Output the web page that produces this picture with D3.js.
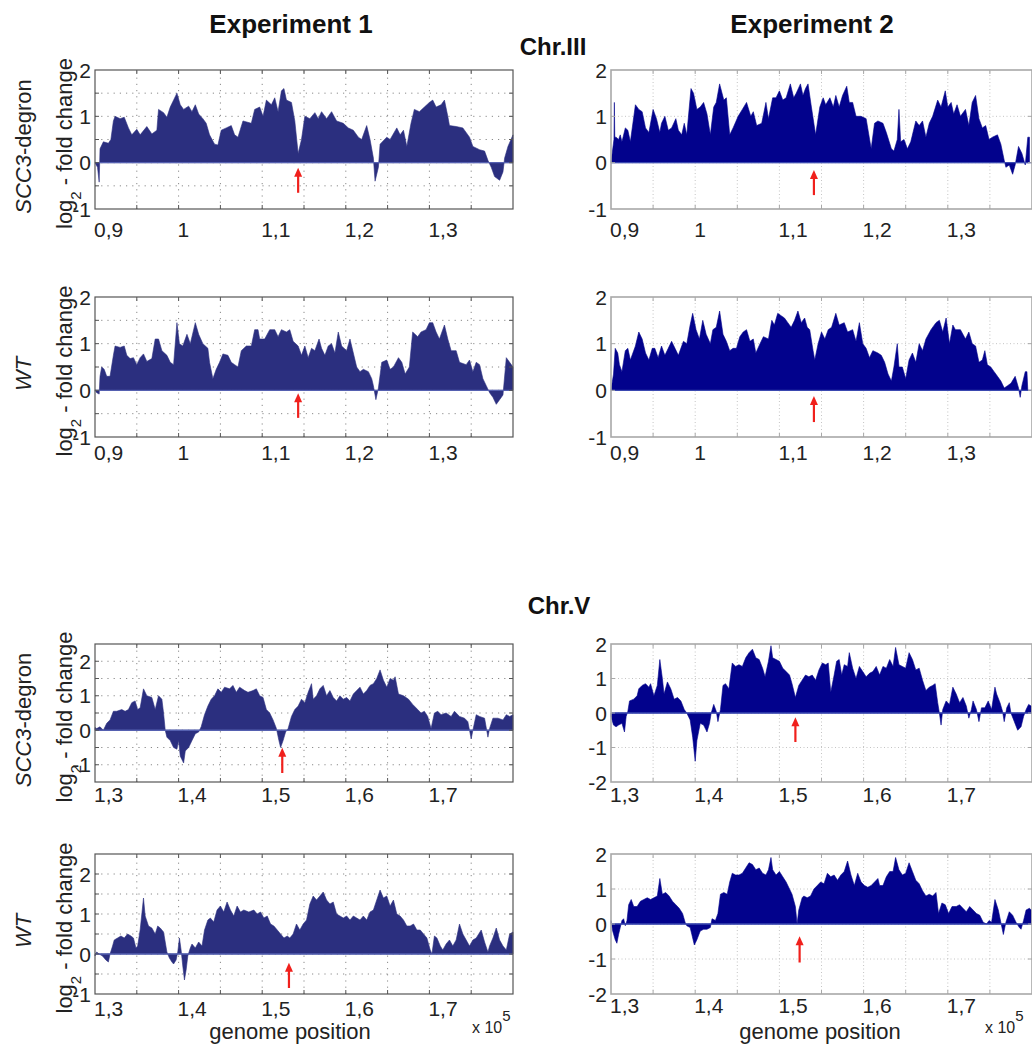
<!DOCTYPE html>
<html>
<head>
<meta charset="utf-8">
<script src="https://cdn.jsdelivr.net/npm/d3@7"></script>
<style>
  body { margin: 0; background: #fff; }
  text { font-family: "Liberation Sans", Arial, sans-serif; fill: #222; }
</style>
</head>
<body>
<div id="fig"></div>
<script>
// log2 fold change along the chromosome, [position in kb, value]
var exp1Chr3Scc3 = [[90.0,0],[90.3,-0.1],[90.5,-0.42],[90.6,0.3],[91.0,0.45],[91.6,0.42],[91.9,0.5],[92.2,0.9],[92.4,1.0],[93.0,0.95],[93.5,0.98],[94.0,0.75],[94.4,0.6],[95.0,0.72],[95.4,0.6],[96.2,0.78],[96.8,0.62],[97.4,0.7],[97.6,1.15],[98.2,1.08],[98.6,0.98],[99.0,1.2],[99.8,1.5],[100.2,1.25],[100.6,1.15],[101.2,1.22],[101.6,1.1],[102.0,1.25],[102.4,1.05],[102.9,0.95],[103.3,0.85],[103.7,0.6],[104.3,0.4],[104.7,0.38],[105.1,0.7],[105.7,0.75],[106.3,0.8],[106.7,0.6],[107.1,0.55],[107.7,0.9],[108.7,0.85],[109.1,1.15],[109.7,1.2],[110.1,1.0],[110.5,1.35],[111.1,1.25],[111.5,1.4],[111.9,1.1],[112.3,1.55],[112.6,1.6],[112.9,1.35],[113.5,1.3],[113.9,0.9],[114.3,0.2],[114.7,0.5],[115.1,1.0],[115.7,0.95],[116.3,1.08],[116.7,0.95],[117.1,1.1],[117.7,0.95],[118.3,1.1],[118.9,0.9],[119.7,0.85],[120.3,0.75],[120.9,0.7],[121.5,0.55],[121.9,0.5],[122.5,0.8],[122.9,0.5],[123.3,0.1],[123.5,-0.4],[123.9,-0.1],[124.1,0.4],[124.9,0.55],[125.3,0.5],[126.1,0.75],[126.5,0.6],[126.9,0.7],[127.3,0.35],[127.8,0.85],[128.2,1.15],[128.8,1.1],[129.4,1.2],[130.0,1.3],[130.4,1.35],[130.8,1.2],[131.4,1.25],[131.8,1.35],[132.2,1.0],[132.4,0.8],[133.2,0.78],[134.0,0.75],[134.8,0.55],[135.2,0.35],[136.0,0.28],[136.6,0.25],[137.0,0.05],[137.4,-0.1],[137.8,-0.3],[138.4,-0.38],[138.8,-0.2],[139.0,0.1],[139.4,0.35],[140.0,0.6]];

var exp2Chr3Scc3 = [[90.0,0],[90.35,0.5],[90.4,1.3],[90.45,0.55],[90.6,0.55],[90.9,0.5],[91.1,0.6],[91.3,0.45],[91.7,0.75],[92.0,0.7],[92.3,0.45],[92.9,1.25],[93.3,1.15],[93.7,1.1],[94.1,0.75],[94.5,0.65],[95.0,1.15],[95.4,0.95],[95.8,0.65],[96.0,0.85],[96.4,1.0],[96.8,0.7],[97.2,0.75],[97.7,0.95],[98.0,0.7],[98.4,0.6],[98.7,0.85],[99.0,0.6],[99.5,1.6],[99.8,1.5],[100.2,1.15],[100.6,1.2],[101.0,1.3],[101.4,1.05],[101.8,0.6],[102.2,1.2],[102.5,1.3],[102.9,1.7],[103.4,1.35],[103.7,1.4],[104.1,0.6],[104.5,0.75],[105.1,1.0],[105.6,1.15],[106.1,1.3],[106.6,1.0],[106.9,1.1],[107.3,0.8],[107.9,0.85],[108.4,1.3],[108.7,0.95],[109.2,1.4],[109.6,1.4],[110.0,1.55],[110.4,1.35],[110.8,1.4],[111.3,1.7],[111.7,1.4],[112.0,1.5],[112.5,1.7],[112.8,1.45],[113.1,1.6],[113.4,1.7],[113.8,1.2],[114.3,0.6],[114.8,1.2],[115.2,1.4],[115.5,1.25],[116.0,1.4],[116.4,1.2],[116.7,1.45],[117.1,1.2],[117.5,1.45],[118.0,1.65],[118.3,1.3],[118.7,1.3],[119.1,1.0],[119.7,1.0],[120.3,0.95],[120.9,0.3],[121.3,0.85],[121.7,0.9],[122.3,0.85],[122.7,0.65],[123.3,0.3],[123.6,0.25],[124.0,0.5],[124.2,1.15],[124.4,0.45],[124.8,0.5],[125.2,0.3],[125.6,0.45],[126.2,0.9],[126.6,0.8],[127.0,0.9],[127.4,0.55],[127.8,0.85],[128.2,1.0],[128.8,1.35],[129.2,1.2],[129.7,1.55],[130.0,1.2],[130.4,1.3],[130.7,1.05],[131.1,1.25],[131.5,1.0],[132.1,1.15],[132.5,0.8],[132.9,1.3],[133.3,1.45],[133.7,0.95],[134.1,0.75],[134.5,0.8],[134.9,0.5],[135.3,0.55],[135.9,0.6],[136.3,0.4],[136.7,0.05],[136.9,-0.1],[137.3,-0.05],[137.7,-0.25],[138.0,-0.05],[138.4,0.35],[138.8,0.2],[139.2,-0.05],[139.5,0.55],[139.7,0.55]];

var exp1Chr3Wt = [[90.0,0],[90.2,-0.05],[90.5,-0.08],[90.6,0.3],[90.8,0.5],[91.1,0.45],[91.4,0.3],[91.8,0.3],[92.2,0.75],[92.4,0.95],[93.0,0.92],[93.5,0.95],[93.8,0.75],[94.2,0.68],[94.6,0.7],[95.0,0.55],[95.4,0.7],[95.8,0.78],[96.2,0.62],[96.8,0.68],[97.2,1.1],[97.6,1.1],[98.0,0.85],[98.6,0.75],[99.0,0.6],[99.4,0.55],[99.8,1.45],[100.1,1.0],[100.5,0.95],[101.0,1.2],[101.4,1.0],[102.0,1.45],[102.4,1.2],[102.9,1.0],[103.5,0.9],[103.7,0.6],[104.1,0.25],[104.5,0.45],[104.9,0.6],[105.3,0.78],[105.9,0.75],[106.3,0.6],[106.7,0.55],[107.1,0.5],[107.5,0.85],[108.1,0.95],[108.7,0.95],[109.1,1.3],[109.5,1.3],[109.7,1.1],[110.3,1.1],[110.9,1.3],[111.5,1.3],[111.9,1.15],[112.3,1.3],[112.9,1.25],[113.3,1.3],[113.7,1.05],[114.3,0.95],[114.7,0.75],[115.1,0.95],[115.5,0.7],[115.9,0.9],[116.3,0.85],[116.8,1.1],[117.1,0.9],[117.5,0.75],[117.9,0.95],[118.3,1.0],[118.7,0.8],[119.1,1.25],[119.5,0.95],[120.1,0.85],[120.5,1.1],[120.9,0.8],[121.3,0.5],[121.7,0.4],[122.1,0.45],[122.7,0.4],[123.1,0.25],[123.3,0.1],[123.6,-0.2],[123.9,0.05],[124.3,0.6],[124.9,0.65],[125.3,0.45],[125.7,0.5],[126.3,0.7],[126.7,0.6],[127.1,0.35],[127.6,0.5],[128.0,1.25],[128.6,1.15],[129.0,1.25],[129.6,1.3],[130.0,1.45],[130.4,1.45],[130.8,1.25],[131.2,1.1],[131.8,1.4],[132.2,1.1],[132.6,0.85],[133.2,0.85],[133.6,0.6],[134.4,0.55],[134.8,0.65],[135.2,0.4],[135.6,0.6],[136.0,0.55],[136.4,0.25],[136.8,0.1],[137.2,-0.05],[137.6,-0.15],[138.0,-0.3],[138.4,-0.2],[138.8,-0.1],[139.2,0.7],[139.6,0.6],[140.0,0.5]];

var exp2Chr3Wt = [[90.0,0],[90.3,0.35],[90.5,0.9],[90.8,0.8],[91.0,0.55],[91.3,0.4],[91.7,0.85],[92.0,0.9],[92.3,0.65],[92.9,0.95],[93.3,1.25],[93.7,1.1],[94.1,0.8],[94.5,0.65],[94.9,0.9],[95.2,0.9],[95.6,0.7],[96.0,0.95],[96.4,0.75],[96.8,0.9],[97.2,1.05],[97.6,0.9],[98.0,0.75],[98.6,1.05],[99.0,1.0],[99.4,1.4],[99.7,1.65],[100.1,1.3],[100.5,1.1],[100.9,1.5],[101.3,1.2],[101.8,1.0],[102.1,1.3],[102.5,1.35],[102.9,1.7],[103.3,1.2],[103.7,1.05],[104.1,0.85],[104.5,0.9],[104.9,0.9],[105.3,1.15],[105.7,1.25],[106.1,1.3],[106.5,1.05],[106.9,1.1],[107.2,0.8],[107.7,1.0],[108.1,1.15],[108.7,1.1],[109.1,1.5],[109.4,1.4],[109.8,1.65],[110.2,1.6],[110.6,1.55],[111.0,1.45],[111.4,1.35],[111.8,1.5],[112.2,1.7],[112.6,1.45],[113.0,1.55],[113.3,1.35],[113.6,1.3],[114.0,0.85],[114.2,0.65],[114.6,1.0],[115.0,1.25],[115.4,1.1],[115.8,1.3],[116.2,1.35],[116.7,1.65],[117.1,1.4],[117.7,1.45],[118.1,1.25],[118.7,1.3],[119.1,1.05],[119.5,1.45],[119.9,1.0],[120.3,0.9],[120.7,0.7],[121.1,0.85],[121.7,0.8],[122.1,0.75],[122.5,0.6],[122.9,0.35],[123.3,0.2],[123.6,0.5],[124.0,1.0],[124.2,0.5],[124.6,0.5],[125.0,0.25],[125.4,0.65],[125.8,0.8],[126.2,0.6],[126.6,1.0],[127.0,0.85],[127.4,1.1],[128.0,1.3],[128.6,1.45],[129.0,1.5],[129.4,1.25],[129.8,1.55],[130.2,1.0],[130.6,1.4],[130.9,1.3],[131.5,1.3],[132.1,1.1],[132.5,1.25],[132.9,1.0],[133.3,0.95],[133.7,0.6],[134.1,0.65],[134.4,0.85],[134.7,0.55],[135.1,0.5],[135.5,0.4],[135.9,0.3],[136.3,0.2],[136.7,0.05],[137.1,0.1],[137.5,0.15],[138.0,0.3],[138.4,0.05],[138.6,-0.15],[138.8,0.1],[139.2,0.4],[139.4,0.4],[139.5,0]];

var exp1Chr5Scc3 = [[130.0,0.08],[130.2,0.05],[130.6,0.1],[131.0,0.0],[131.4,0.2],[131.8,0.3],[132.2,0.55],[132.6,0.55],[133.2,0.6],[133.6,0.55],[134.0,0.6],[134.4,0.8],[134.8,0.85],[135.1,0.6],[135.4,0.65],[135.8,1.2],[136.2,1.0],[136.8,0.95],[137.2,0.6],[137.6,1.0],[138.0,0.9],[138.2,0.5],[138.4,0.0],[138.6,-0.2],[139.0,-0.3],[139.4,-0.5],[139.8,-0.55],[140.0,-0.3],[140.2,-0.75],[140.6,-0.95],[140.8,-0.6],[141.2,-0.5],[141.6,-0.3],[142.0,-0.1],[142.4,-0.05],[142.7,0.1],[143.1,0.45],[143.5,0.7],[143.9,0.9],[144.3,1.0],[144.7,1.2],[145.1,1.1],[145.5,1.25],[146.1,1.2],[146.5,1.3],[146.9,1.1],[147.3,1.25],[147.9,1.15],[148.3,1.1],[148.9,1.15],[149.3,1.2],[149.7,1.0],[150.1,0.95],[150.5,0.6],[150.9,0.5],[151.3,0.3],[151.7,0.05],[152.0,-0.3],[152.2,-0.5],[152.5,-0.3],[152.8,-0.05],[153.1,0.05],[153.5,0.4],[153.9,0.6],[154.3,0.7],[154.7,0.9],[155.1,0.8],[155.5,1.1],[155.9,1.35],[156.1,0.9],[156.5,1.0],[156.9,1.2],[157.3,1.3],[157.7,1.0],[158.1,1.15],[158.5,0.95],[158.9,0.85],[159.3,1.0],[159.7,0.9],[160.1,0.95],[160.5,0.85],[160.9,1.05],[161.3,1.15],[161.7,1.25],[162.1,1.05],[162.5,1.15],[162.9,1.3],[163.3,1.35],[163.7,1.5],[164.1,1.75],[164.5,1.45],[164.9,1.25],[165.3,1.5],[165.7,1.45],[165.9,1.55],[166.3,1.05],[166.9,1.0],[167.5,0.9],[168.0,0.75],[168.6,0.6],[169.0,0.5],[169.4,0.55],[169.8,0.4],[170.2,0.05],[170.6,0.5],[171.0,0.55],[171.4,0.45],[172.0,0.5],[172.6,0.4],[173.0,0.55],[173.6,0.4],[174.2,0.35],[174.6,0.25],[175.0,-0.25],[175.2,0.0],[175.6,0.45],[176.0,0.4],[176.6,0.35],[177.0,-0.2],[177.2,0.05],[177.6,0.35],[178.2,0.35],[178.8,0.3],[179.2,0.45],[179.6,0.4],[180.0,0.45]];

var exp2Chr5Scc3 = [[130.0,-0.1],[130.3,-0.35],[130.6,-0.4],[130.9,-0.35],[131.3,-0.3],[131.6,-0.55],[131.8,-0.1],[132.0,0.05],[132.2,0.35],[132.7,0.4],[133.1,0.5],[133.3,0.7],[133.7,0.8],[134.1,0.85],[134.5,0.75],[134.7,0.85],[135.1,0.5],[135.5,0.8],[135.8,1.55],[136.1,1.0],[136.3,0.55],[136.7,0.9],[137.1,0.7],[137.5,0.4],[137.9,0.45],[138.3,0.35],[138.7,0.1],[139.0,0.0],[139.4,-0.2],[139.7,-0.7],[140.0,-1.4],[140.2,-0.8],[140.6,-0.3],[141.0,-0.35],[141.4,-0.55],[141.7,-0.3],[141.9,0.0],[142.2,0.25],[142.5,0.05],[142.7,-0.25],[143.0,0.1],[143.3,0.8],[143.6,0.85],[144.0,0.7],[144.4,1.45],[144.8,1.35],[145.2,1.4],[145.6,1.35],[146.0,1.6],[146.4,1.75],[146.8,1.85],[147.2,1.6],[147.6,1.55],[148.0,1.3],[148.3,1.05],[148.7,1.5],[149.0,1.95],[149.2,1.6],[149.6,1.55],[150.0,1.5],[150.4,1.3],[150.8,1.2],[151.2,1.1],[151.5,0.85],[151.9,0.45],[152.3,0.8],[152.7,0.95],[153.1,1.1],[153.5,1.05],[153.9,1.1],[154.3,0.95],[154.7,1.25],[155.1,1.45],[155.5,1.4],[155.8,1.45],[156.1,0.6],[156.5,1.1],[156.8,1.5],[157.1,1.55],[157.4,1.1],[157.7,1.4],[158.1,1.35],[158.3,1.75],[158.7,1.3],[159.1,1.0],[159.5,1.35],[159.9,1.2],[160.3,1.05],[160.7,1.15],[161.1,1.2],[161.5,1.35],[161.9,1.1],[162.3,1.35],[162.7,1.3],[163.1,1.55],[163.5,1.35],[163.8,1.9],[164.2,1.4],[164.6,1.35],[165.0,1.3],[165.4,1.75],[165.8,1.55],[166.2,1.25],[166.6,1.3],[167.0,0.95],[167.4,0.65],[167.8,0.75],[168.2,0.8],[168.5,0.85],[168.8,0.3],[169.0,0.0],[169.2,-0.35],[169.4,0.1],[169.8,0.35],[170.2,0.25],[170.6,0.75],[171.0,0.55],[171.4,0.3],[171.8,0.45],[172.2,0.2],[172.5,-0.15],[172.8,0.1],[173.0,0.35],[173.4,0.1],[173.7,-0.25],[174.0,0.15],[174.4,0.15],[174.8,0.35],[175.2,0.1],[175.6,0.75],[175.8,0.55],[176.2,0.3],[176.5,0.05],[176.7,-0.25],[177.0,0.15],[177.3,0.3],[177.5,0.0],[177.9,-0.25],[178.3,-0.5],[178.7,-0.4],[179.0,-0.1],[179.3,0.1],[179.6,0.25],[179.9,0.2]];

var exp1Chr5Wt = [[130.0,-0.05],[130.2,0.05],[130.5,0.0],[130.9,-0.05],[131.3,-0.15],[131.6,-0.2],[131.8,0.0],[132.1,0.2],[132.3,0.35],[132.7,0.4],[133.1,0.45],[133.5,0.4],[133.9,0.5],[134.3,0.45],[134.6,0.4],[134.9,0.15],[135.1,0.2],[135.4,0.6],[135.8,1.4],[136.0,0.95],[136.4,0.7],[136.8,0.65],[137.2,0.5],[137.5,0.7],[137.8,0.65],[138.2,0.55],[138.6,0.05],[138.9,-0.1],[139.2,-0.2],[139.4,-0.25],[139.7,-0.15],[139.9,0.05],[140.1,0.4],[140.3,0.1],[140.5,-0.3],[140.7,-0.65],[140.9,-0.4],[141.1,-0.05],[141.4,0.15],[141.6,0.25],[142.0,0.15],[142.4,0.3],[142.8,0.2],[143.1,0.6],[143.5,0.85],[143.8,0.9],[144.2,0.8],[144.6,1.1],[145.0,1.2],[145.4,1.05],[145.8,1.3],[146.2,1.1],[146.6,0.95],[147.0,1.2],[147.4,1.05],[147.8,1.1],[148.4,1.05],[149.0,1.1],[149.4,1.0],[149.8,1.05],[150.2,0.9],[150.6,0.95],[151.0,0.75],[151.4,0.7],[151.8,0.6],[152.2,0.5],[152.6,0.4],[153.0,0.45],[153.3,0.4],[153.7,0.5],[154.1,0.75],[154.5,0.6],[154.9,0.75],[155.3,0.85],[155.7,1.25],[156.1,1.45],[156.5,1.35],[156.9,1.45],[157.3,1.55],[157.7,1.35],[158.1,1.25],[158.5,1.3],[158.9,1.0],[159.3,0.95],[159.7,0.9],[160.1,0.95],[160.5,0.85],[160.9,0.95],[161.3,0.9],[161.7,0.85],[162.1,0.95],[162.5,0.85],[162.9,1.05],[163.3,1.1],[163.7,1.35],[164.1,1.6],[164.5,1.4],[164.9,1.45],[165.3,1.2],[165.7,1.35],[166.1,1.0],[166.5,0.95],[166.9,0.85],[167.3,0.7],[167.7,0.7],[168.1,0.75],[168.5,0.6],[168.9,0.6],[169.3,0.5],[169.7,0.4],[170.1,0.1],[170.3,0.0],[170.6,0.45],[170.9,0.4],[171.3,0.2],[171.6,0.1],[172.0,0.25],[172.4,0.35],[172.8,0.2],[173.2,0.35],[173.6,0.75],[174.0,0.5],[174.4,0.35],[174.8,0.2],[175.2,0.35],[175.6,0.4],[176.2,0.6],[176.6,0.3],[177.0,0.05],[177.2,0.2],[177.6,0.4],[178.0,0.65],[178.4,0.35],[178.8,0.2],[179.2,0.1],[179.6,0.5],[180.0,0.55]];

var exp2Chr5Wt = [[130.0,0.1],[130.2,-0.2],[130.5,-0.45],[130.7,-0.55],[130.9,-0.3],[131.1,-0.1],[131.3,0.1],[131.5,0.15],[131.7,-0.05],[131.9,0.1],[132.1,0.55],[132.4,0.7],[132.7,0.5],[133.1,0.5],[133.5,0.65],[133.9,0.7],[134.3,0.75],[134.7,0.7],[135.1,0.75],[135.5,0.8],[135.8,1.3],[136.1,0.85],[136.5,0.9],[136.9,0.8],[137.3,0.65],[137.7,0.55],[138.1,0.45],[138.5,0.3],[138.8,0.05],[139.0,-0.05],[139.4,-0.1],[139.6,-0.3],[139.9,-0.6],[140.2,-0.45],[140.6,-0.2],[141.0,-0.15],[141.4,-0.15],[141.8,-0.1],[142.0,0.15],[142.4,0.1],[142.7,0.3],[143.0,0.85],[143.4,0.9],[143.8,0.85],[144.1,1.2],[144.4,1.45],[144.8,1.4],[145.2,1.4],[145.6,1.45],[146.0,1.6],[146.4,1.75],[146.8,1.7],[147.2,1.55],[147.6,1.6],[148.0,1.45],[148.4,1.4],[148.7,1.55],[149.0,1.9],[149.2,1.55],[149.6,1.4],[150.0,1.5],[150.4,1.35],[150.8,1.2],[151.2,1.0],[151.5,0.85],[151.9,0.5],[152.1,0.0],[152.3,0.4],[152.7,0.75],[152.9,0.8],[153.3,0.75],[153.7,0.8],[154.1,1.0],[154.5,1.1],[154.9,1.2],[155.3,1.15],[155.7,1.45],[156.1,1.35],[156.5,1.4],[156.9,1.25],[157.3,1.4],[157.7,1.5],[158.1,1.8],[158.5,1.4],[158.9,1.1],[159.3,1.45],[159.7,1.2],[160.1,1.1],[160.5,1.05],[160.9,1.1],[161.3,1.2],[161.7,1.3],[161.9,1.1],[162.3,1.1],[162.7,1.35],[163.1,1.5],[163.5,1.5],[163.8,1.9],[164.2,1.55],[164.6,1.4],[165.0,1.45],[165.4,1.75],[165.8,1.5],[166.2,1.25],[166.6,1.15],[167.0,0.95],[167.4,0.8],[167.8,0.85],[168.2,0.8],[168.6,0.9],[168.9,0.3],[169.3,0.6],[169.7,0.55],[170.1,0.3],[170.5,0.5],[171.0,0.5],[171.4,0.55],[171.8,0.45],[172.2,0.35],[172.6,0.5],[173.0,0.4],[173.4,0.3],[173.8,0.25],[174.2,0.05],[174.6,0.0],[174.9,0.1],[175.2,0.05],[175.6,0.7],[176.0,0.4],[176.3,0.05],[176.6,-0.3],[176.9,0.05],[177.3,0.35],[177.7,0.25],[178.1,0.05],[178.5,-0.1],[178.7,-0.15],[179.0,0.1],[179.3,0.4],[179.7,0.45],[179.9,0.4]];

// centromere arrows, one per panel (position kb, head and tail in log2 units)
var arrowPos  = [114.3, 114.1, 114.3, 114.1, 152.4, 151.9, 153.2, 152.4];
var arrowHead = [-0.11, -0.16, -0.06, -0.12, -0.51, -0.12, -0.22, -0.35];
var arrowTail = [-0.65, -0.70, -0.59, -0.68, -1.24, -0.84, -0.85, -1.10];

var chr3Domain = [90, 140];
var chr5Domain = [130, 180];
var yDomains = [[-1,2], [-1,2], [-1,2], [-1,2], [-1.5,2.5], [-2,2], [-1,2.5], [-2,2]];

var colRange = [[95, 513], [611, 1032]];
var rowRange = [[209, 70], [437, 297], [782, 644], [994, 854]];
// gap between box bottom and tick label baseline, per panel
var labelGap = [28, 28, 23, 23, 20, 20, 22, 19];

var svg = d3.select("#fig")
  .append("svg")
    .attr("width", 1032)
    .attr("height", 1044);

var panels = [
  {data: exp1Chr3Scc3, col: 0, row: 0, dom: chr3Domain},
  {data: exp2Chr3Scc3, col: 1, row: 0, dom: chr3Domain},
  {data: exp1Chr3Wt,   col: 0, row: 1, dom: chr3Domain},
  {data: exp2Chr3Wt,   col: 1, row: 1, dom: chr3Domain},
  {data: exp1Chr5Scc3, col: 0, row: 2, dom: chr5Domain},
  {data: exp2Chr5Scc3, col: 1, row: 2, dom: chr5Domain},
  {data: exp1Chr5Wt,   col: 0, row: 3, dom: chr5Domain},
  {data: exp2Chr5Wt,   col: 1, row: 3, dom: chr5Domain}
];

panels.forEach(function(p, i){ drawPanel(p, i) });

function drawPanel(p, i){
  var left = p.col == 0;
  var x = d3.scaleLinear().domain(p.dom).range(colRange[p.col]);
  var y = d3.scaleLinear().domain(yDomains[i]).range(rowRange[p.row]);
  var x0 = x.range()[0], x1 = x.range()[1];
  var yb = y.range()[0], yt = y.range()[1];
  var g = svg.append("g");

  var gridColor = left ? "#8a8a8a" : "#c4c4c4";
  var xGrid = d3.range(p.dom[0] + 5, p.dom[1], 5);
  var yStep = left ? 0.5 : 1;
  var yGrid = d3.range(yDomains[i][0] + yStep, yDomains[i][1], yStep);

  // dotted grid
  g.selectAll(".vgrid").data(xGrid).enter().append("line")
    .attr("x1", function(d){ return x(d) }).attr("x2", function(d){ return x(d) })
    .attr("y1", yb).attr("y2", yt)
    .attr("stroke", gridColor).attr("stroke-width", 1)
    .attr("stroke-dasharray", left ? "1.2,5" : "1,2.5");
  g.selectAll(".hgrid").data(yGrid).enter().append("line")
    .attr("x1", x0).attr("x2", x1)
    .attr("y1", function(d){ return y(d) }).attr("y2", function(d){ return y(d) })
    .attr("stroke", gridColor).attr("stroke-width", 1)
    .attr("stroke-dasharray", left ? "1.2,5" : "1,2.5");

  // the profile
  var area = d3.area()
    .x(function(d){ return x(d[0]) })
    .y0(y(0))
    .y1(function(d){ return y(d[1]) });
  g.append("path")
    .datum(p.data)
    .attr("d", area)
    .attr("fill", left ? "#2b2f7f" : "#02028c")
    .attr("stroke", left ? "#2b2f7f" : "#02028c")
    .attr("stroke-width", 0.6)
    .attr("stroke-linejoin", "miter");

  g.append("line")
    .attr("x1", x0).attr("x2", x1)
    .attr("y1", y(0)).attr("y2", y(0))
    .attr("stroke", left ? "#5560b0" : "#3a48b0")
    .attr("stroke-width", 1.3);

  // box and inward ticks
  var boxColor = left ? "#555" : "#a8a8a8";
  g.append("rect")
    .attr("x", x0).attr("y", yt)
    .attr("width", x1 - x0).attr("height", yb - yt)
    .attr("fill", "none").attr("stroke", boxColor)
    .attr("stroke-width", left ? 1.2 : 1.6);
  g.selectAll(".xt").data(xGrid).enter().append("path")
    .attr("d", function(d){ return "M" + x(d) + "," + yb + "v-4M" + x(d) + "," + yt + "v4" })
    .attr("stroke", boxColor).attr("stroke-width", 1);
  g.selectAll(".yt").data(yGrid).enter().append("path")
    .attr("d", function(d){ return "M" + x0 + "," + y(d) + "h4M" + x1 + "," + y(d) + "h-4" })
    .attr("stroke", boxColor).attr("stroke-width", 1);

  // tick labels
  var xLabels = d3.range(p.dom[0], p.dom[1], 10);
  g.selectAll(".xl").data(xLabels).enter().append("text")
    .attr("x", function(d){ return x(d) - 1 })
    .attr("y", yb + labelGap[i])
    .attr("text-anchor", "start")
    .style("font-size", "21px")
    .text(function(d){ return String(+(d / 100).toFixed(1)).replace(".", ",") });

  var yLabels = d3.range(Math.ceil(yDomains[i][0]), Math.floor(yDomains[i][1]) + 1, 1).reverse();
  g.selectAll(".yl").data(yLabels).enter().append("text")
    .attr("x", x0 - 4)
    .attr("y", function(d){ return y(d) })
    .attr("dy", "0.36em")
    .attr("text-anchor", "end")
    .style("font-size", "21px")
    .text(function(d){ return d });

  // centromere arrow
  var ax = x(arrowPos[i]), ah = y(arrowHead[i]);
  g.append("line")
    .attr("x1", ax).attr("x2", ax)
    .attr("y1", y(arrowTail[i])).attr("y2", ah + 6)
    .attr("stroke", "#f0201c").attr("stroke-width", 2.2);
  g.append("path")
    .attr("d", "M" + (ax - 4) + "," + (ah + 9) + "L" + ax + "," + ah + "L" + (ax + 4) + "," + (ah + 9) + "Z")
    .attr("fill", "#f0201c");

  if (left) {
    var cy = (yb + yt) / 2 + 4;
    var t = g.append("text")
      .attr("transform", "translate(64," + cy + ") rotate(-90)")
      .attr("text-anchor", "middle")
      .attr("dy", "0.36em")
      .style("font-size", "22px");
    t.append("tspan").text("log");
    t.append("tspan").attr("baseline-shift", "sub").style("font-size", "15px").text("2");
    t.append("tspan").text(" - fold change");

    var r = g.append("text")
      .attr("transform", "translate(23," + (cy + 3) + ") rotate(-90)")
      .attr("text-anchor", "middle")
      .attr("dy", "0.36em")
      .style("font-size", "22px");
    if (p.row % 2 == 0) {
      r.append("tspan").style("font-style", "italic").text("SCC3");
      r.append("tspan").text("-degron");
    } else {
      r.append("tspan").style("font-style", "italic").text("WT");
    }
  }

  if (p.row == 3) {
    g.append("text")
      .attr("x", left ? 290 : 820)
      .attr("y", left ? 1039 : 1039)
      .attr("text-anchor", "middle")
      .style("font-size", "22px")
      .text("genome position");
    var e = g.append("text")
      .attr("x", left ? 472 : 985)
      .attr("y", 1033)
      .style("font-size", "16px");
    e.append("tspan").text("x 10");
    e.append("tspan").attr("dy", -12).style("font-size", "15px").text("5");
  }
}

// headers
var headers = [
  {label: "Experiment 1", x: 291, y: 33, size: 26},
  {label: "Experiment 2", x: 812, y: 33, size: 26},
  {label: "Chr.III", x: 553, y: 55, size: 24},
  {label: "Chr.V", x: 559, y: 614, size: 24}
];
svg.selectAll(".hdr").data(headers).enter().append("text")
  .attr("x", function(d){ return d.x })
  .attr("y", function(d){ return d.y })
  .attr("text-anchor", "middle")
  .style("font-size", function(d){ return d.size + "px" })
  .style("font-weight", "bold")
  .style("fill", "#111")
  .text(function(d){ return d.label });
</script>
</body>
</html>
